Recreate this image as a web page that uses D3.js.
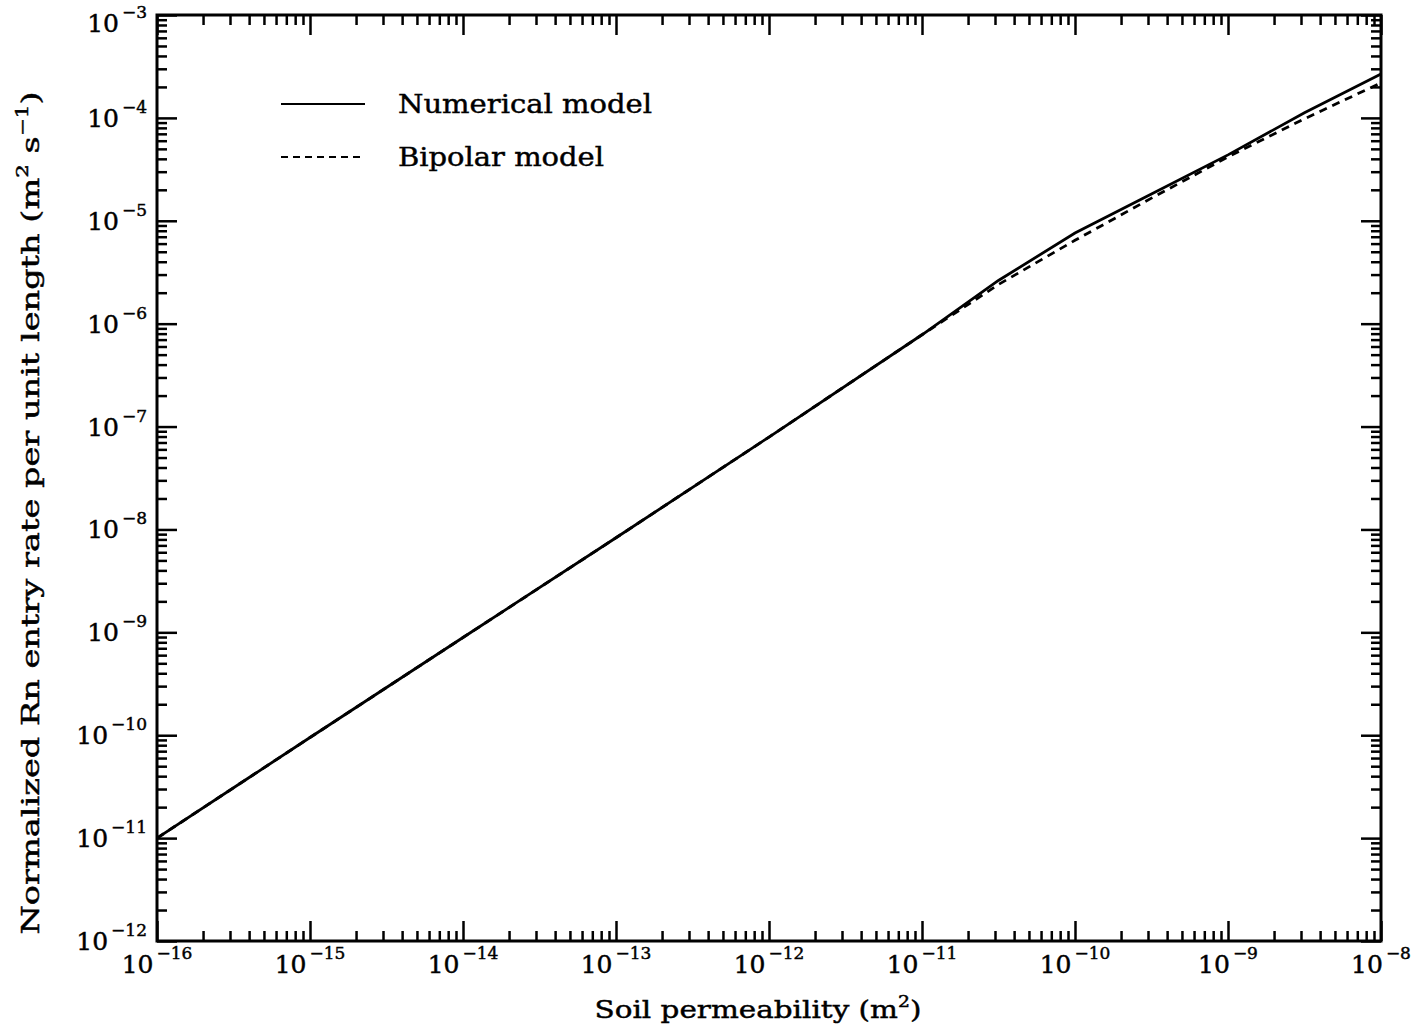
<!DOCTYPE html>
<html>
  <head>
  <title>Rn entry rate vs soil permeability</title>
  </head>
  <body>
  <style>
    body, html {
      margin: 0;
      padding: 0;
      background: #fff;
    }
    svg text {
      font-family: "DejaVu Serif", "Liberation Serif", serif;
      fill: #000;
      stroke: #000;
      stroke-width: 0.45px;
    }
  </style>

  <svg id="svg" width="1412" height="1032"></svg>

  <script src="https://cdn.jsdelivr.net/npm/d3@7"></script>
  <script>
    // soil permeability (m^2)
    const permeability = [1e-16, 1e-15, 1e-14, 1e-13, 1e-12, 1e-11, 3.16e-11, 1e-10, 3.16e-10, 1e-9, 3.16e-9, 1e-8]
    // normalized Rn entry rate per unit length (m^2 s^-1)
    const numerical = [1.0e-11, 9.5e-11, 8.9e-10, 8.3e-9, 7.9e-8, 7.8e-7, 2.63e-6, 7.6e-6, 1.82e-5, 4.37e-5, 1.12e-4, 2.67e-4]
    const bipolar = [1.0e-11, 9.5e-11, 8.9e-10, 8.3e-9, 7.9e-8, 7.8e-7, 2.4e-6, 6.46e-6, 1.66e-5, 4.17e-5, 9.8e-5, 2.19e-4]

    const xTicks = [1e-16, 1e-15, 1e-14, 1e-13, 1e-12, 1e-11, 1e-10, 1e-9, 1e-8]
    const xTickLabels = ['−16', '−15', '−14', '−13', '−12', '−11', '−10', '−9', '−8']
    const yTicks = [1e-12, 1e-11, 1e-10, 1e-9, 1e-8, 1e-7, 1e-6, 1e-5, 1e-4, 1e-3]
    const yTickLabels = ['−12', '−11', '−10', '−9', '−8', '−7', '−6', '−5', '−4', '−3']

    const legendItems = ['Numerical model', 'Bipolar model']

    const plotL = 157, plotR = 1381, plotT = 15, plotB = 941

    const xScale = d3.scaleLog().domain([1e-16, 1e-8]).range([plotL, plotR])
    const yScale = d3.scaleLog().domain([1e-12, 1e-3]).range([plotB, plotT])

    // minor tick positions: 2..9 within each decade
    function minors(ticks) {
      const out = []
      ticks.slice(0, -1).forEach(t => {
        for (let k = 2; k <= 9; k++) out.push(t * k)
      })
      return out
    }

    const svg = d3.select('#svg')

    function styleAxis(g) {
      g.select('.domain').remove()
      g.selectAll('.tick line').attr('stroke', '#000').attr('stroke-width', 2.5)
    }

    // bottom + top axes (ticks inward)
    svg.append('g').attr('transform', `translate(0, ${plotB})`)
      .call(d3.axisBottom(xScale).tickValues(xTicks).tickSize(-20).tickFormat(''))
      .call(styleAxis)
    svg.append('g').attr('transform', `translate(0, ${plotB})`)
      .call(d3.axisBottom(xScale).tickValues(minors(xTicks)).tickSize(-10).tickFormat(''))
      .call(styleAxis)
    svg.append('g').attr('transform', `translate(0, ${plotT})`)
      .call(d3.axisTop(xScale).tickValues(xTicks).tickSize(-20).tickFormat(''))
      .call(styleAxis)
    svg.append('g').attr('transform', `translate(0, ${plotT})`)
      .call(d3.axisTop(xScale).tickValues(minors(xTicks)).tickSize(-10).tickFormat(''))
      .call(styleAxis)

    // left + right axes
    svg.append('g').attr('transform', `translate(${plotL}, 0)`)
      .call(d3.axisLeft(yScale).tickValues(yTicks).tickSize(-20).tickFormat(''))
      .call(styleAxis)
    svg.append('g').attr('transform', `translate(${plotL}, 0)`)
      .call(d3.axisLeft(yScale).tickValues(minors(yTicks)).tickSize(-10).tickFormat(''))
      .call(styleAxis)
    svg.append('g').attr('transform', `translate(${plotR}, 0)`)
      .call(d3.axisRight(yScale).tickValues(yTicks).tickSize(-20).tickFormat(''))
      .call(styleAxis)
    svg.append('g').attr('transform', `translate(${plotR}, 0)`)
      .call(d3.axisRight(yScale).tickValues(minors(yTicks)).tickSize(-10).tickFormat(''))
      .call(styleAxis)

    // frame
    svg.append('rect')
      .attr('x', plotL).attr('y', plotT)
      .attr('width', plotR - plotL).attr('height', plotB - plotT)
      .attr('fill', 'none').attr('stroke', '#000').attr('stroke-width', 3)

    // tick labels as 10^n
    xTicks.forEach((t, i) => {
      const txt = svg.append('text')
        .attr('x', xScale(t)).attr('y', plotB + 32)
        .attr('text-anchor', 'middle')
        .style('font-size', '25px')
      txt.append('tspan').text('10')
      txt.append('tspan').attr('dy', -14).attr('dx', 3).style('font-size', '17px').text(xTickLabels[i])
    })
    yTicks.forEach((t, i) => {
      const txt = svg.append('text')
        .attr('x', plotL - 10).attr('y', Math.max(yScale(t) + 9, 32))
        .attr('text-anchor', 'end')
        .style('font-size', '25px')
      txt.append('tspan').text('10')
      txt.append('tspan').attr('dy', -14).attr('dx', 3).style('font-size', '17px').text(yTickLabels[i])
    })

    // axis titles
    const xTitle = svg.append('text')
      .attr('x', 758).attr('y', 1018)
      .attr('text-anchor', 'middle')
      .attr('textLength', 327).attr('lengthAdjust', 'spacingAndGlyphs')
      .style('font-size', '25px')
    xTitle.append('tspan').text('Soil permeability (m')
    xTitle.append('tspan').attr('dy', -11).style('font-size', '16px').text('2')
    xTitle.append('tspan').attr('dy', 11).text(')')

    const yTitle = svg.append('text')
      .attr('transform', 'translate(39, 513) rotate(-90)')
      .attr('text-anchor', 'middle')
      .attr('textLength', 843).attr('lengthAdjust', 'spacingAndGlyphs')
      .style('font-size', '25px')
    yTitle.append('tspan').text('Normalized Rn entry rate per unit length (m')
    yTitle.append('tspan').attr('dy', -11).style('font-size', '16px').text('2')
    yTitle.append('tspan').attr('dy', 11).text(' s')
    yTitle.append('tspan').attr('dy', -11).style('font-size', '16px').text('−1')
    yTitle.append('tspan').attr('dy', 11).text(')')

    // lines
    const linegen = d3.line()
      .x(d => xScale(d[0]))
      .y(d => yScale(d[1]))

    svg.append('path')
      .attr('d', linegen(permeability.map((p, i) => [p, bipolar[i]])))
      .attr('fill', 'none').attr('stroke', '#000').attr('stroke-width', 2.8)
      .attr('stroke-dasharray', '8,6')
    svg.append('path')
      .attr('d', linegen(permeability.map((p, i) => [p, numerical[i]])))
      .attr('fill', 'none').attr('stroke', '#000').attr('stroke-width', 2.8)

    // legend
    const legend = svg.append('g')
    const dashes = [null, '7,5']
    legendItems.forEach((name, i) => {
      const y = 104 + i * 53
      legend.append('line')
        .attr('x1', 281).attr('x2', 365).attr('y1', y).attr('y2', y)
        .attr('stroke', '#000').attr('stroke-width', 2.2)
        .attr('stroke-dasharray', dashes[i])
      legend.append('text')
        .attr('x', 398).attr('y', y + 9)
        .attr('textLength', i === 0 ? 254 : 206).attr('lengthAdjust', 'spacingAndGlyphs')
        .style('font-size', '26px')
        .text(name)
    })
  </script>
  </body>
</html>
